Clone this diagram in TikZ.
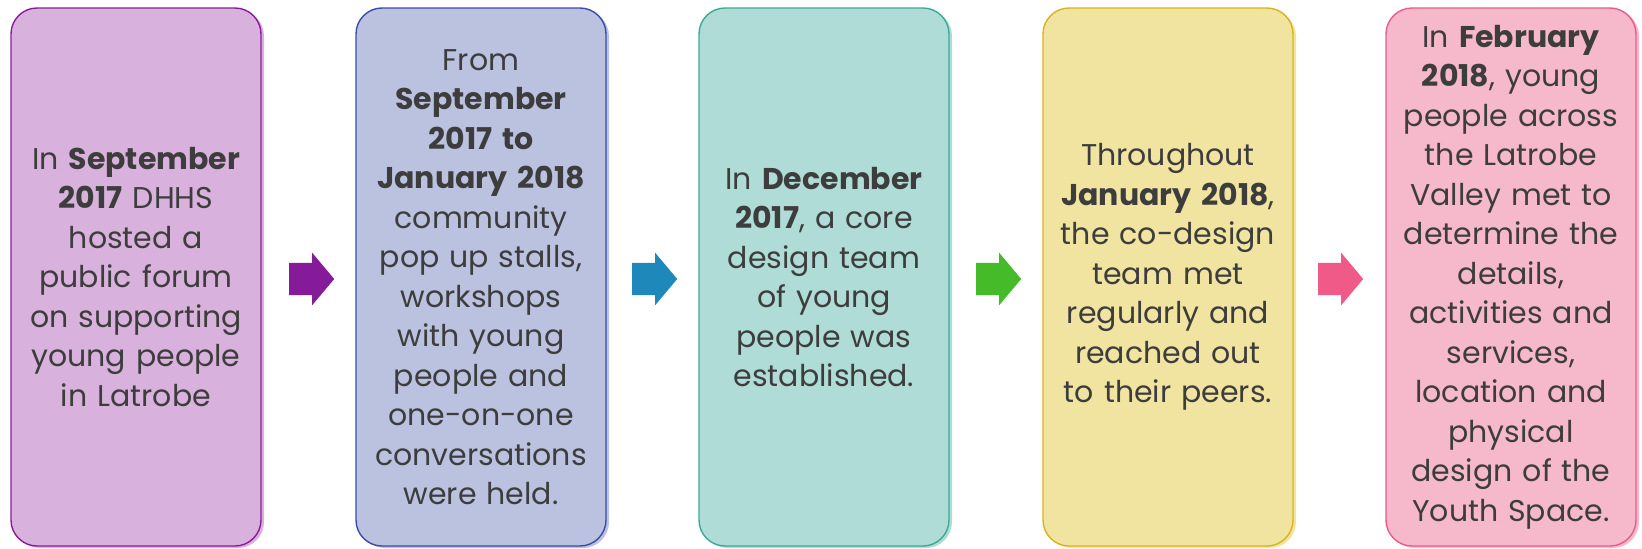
\documentclass[tikz,border=0pt]{standalone}
\usepackage{fontspec}
\setmainfont{Poppins}
\usetikzlibrary{shapes.arrows}
\definecolor{txt}{HTML}{3D3D3D}
\definecolor{fa}{HTML}{D8B2DC}\definecolor{la}{HTML}{8A1C9C}
\definecolor{fb}{HTML}{BAC2DF}\definecolor{lb}{HTML}{3A4CA8}
\definecolor{fc}{HTML}{AFDCD6}\definecolor{lc}{HTML}{3AAA96}
\definecolor{fd}{HTML}{F1E4A1}\definecolor{ld}{HTML}{D9B21C}
\definecolor{fe}{HTML}{F6B9CC}\definecolor{le}{HTML}{EA5B8B}
\definecolor{aa}{HTML}{861B9A}\definecolor{ab}{HTML}{1F88BB}
\definecolor{ac}{HTML}{45BB2A}\definecolor{ad}{HTML}{F05A88}
\tikzset{
  card/.style 2 args={draw=#2, line width=1.4pt, rounded corners=26pt,
    minimum width=250pt, minimum height=538pt, inner sep=0pt,
    text width=248pt, align=center, text=txt,
    font=\fontsize{30}{39.5}\selectfont,
    preaction={fill=#1, transform canvas={shift={(3pt,-2pt)}}},
    preaction={fill=#1}},
  blockarrow/.style={single arrow, fill=#1, draw=none,
    inner xsep=0pt, inner ysep=16pt, text height=0pt, text depth=0pt,
    minimum height=45pt, single arrow head extend=10pt,
    single arrow tip angle=100, single arrow head indent=0pt, anchor=tail}
}
\begin{document}
\begin{tikzpicture}[x=1pt,y=-1pt]
\useasboundingbox (0,0) rectangle (1642,549);
\node[card={fa}{la}] (b1) at (136,277) {In \textbf{September}\\\textbf{2017} DHHS\\hosted a\\public forum\\on supporting\\young people\\in Latrobe};
\node[card={fb}{lb}] (b2) at (481,277) {From\\\textbf{September}\\\textbf{2017 to}\\\textbf{January 2018}\\community\\pop up stalls,\\workshops\\with young\\people and\\one-on-one\\conversations\\were held.};
\node[card={fc}{lc}] (b3) at (824,277) {In \textbf{December}\\\textbf{2017}, a core\\design team\\of young\\people was\\established.};
\node[card={fd}{ld}] (b4) at (1168,277) {Throughout\\\textbf{January 2018},\\the co-design\\team met\\regularly and\\reached out\\to their peers.};
\node[card={fe}{le}] (b5) at (1511,277) {In \textbf{February}\\\textbf{2018}, young\\people across\\the Latrobe\\Valley met to\\determine the\\details,\\activities and\\services,\\location and\\physical\\design of the\\Youth Space.};
\node[blockarrow=aa] (a1) at (289,279) {};
\node[blockarrow=ab] (a2) at (632,279) {};
\node[blockarrow=ac] (a3) at (976,279) {};
\node[blockarrow=ad] (a4) at (1318,279) {};
\end{tikzpicture}
\end{document}
